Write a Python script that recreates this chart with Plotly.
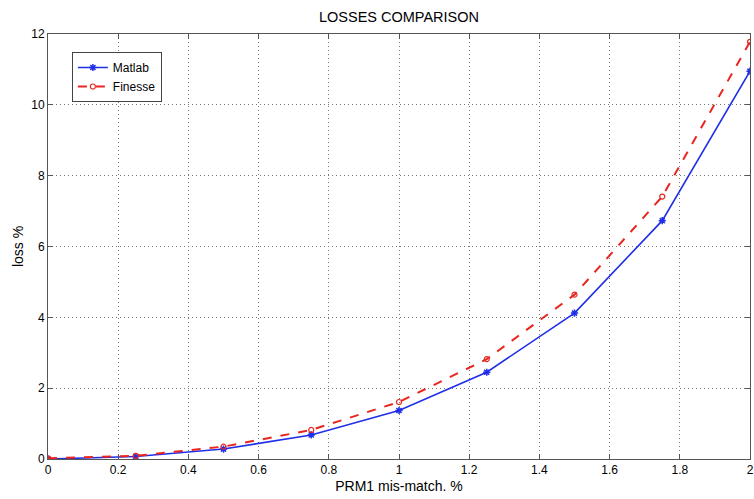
import plotly.graph_objects as go

# Data
mismatch = [0, 0.25, 0.5, 0.75, 1.0, 1.25, 1.5, 1.75, 2.0]
matlab_loss = [0.0, 0.07, 0.28, 0.68, 1.37, 2.45, 4.12, 6.73, 10.95]
finesse_loss = [0.02, 0.09, 0.35, 0.82, 1.61, 2.82, 4.64, 7.41, 11.78]

x_ticks = [0, 0.2, 0.4, 0.6, 0.8, 1, 1.2, 1.4, 1.6, 1.8, 2]
x_tick_labels = ["0", "0.2", "0.4", "0.6", "0.8", "1", "1.2", "1.4", "1.6", "1.8", "2"]
y_ticks = [0, 2, 4, 6, 8, 10, 12]
y_tick_labels = ["0", "2", "4", "6", "8", "10", "12"]

FONT = "Liberation Sans, Arial, Helvetica, sans-serif"
AXIS_COLOR = "#555555"

fig = go.Figure()
fig.add_trace(go.Scatter(
    x=mismatch, y=matlab_loss, name="Matlab", mode="lines+markers",
    line=dict(color="#1f2fe8", width=1.6),
    marker=dict(symbol="asterisk-open", size=6, color="#1f2fe8",
                line=dict(color="#1f2fe8", width=1.5)),
))
fig.add_trace(go.Scatter(
    x=mismatch, y=finesse_loss, name="Finesse", mode="lines+markers",
    line=dict(color="#e8261f", width=2, dash="dash"),
    marker=dict(symbol="circle-open", size=5, color="#e8261f",
                line=dict(color="#e8261f", width=1.2)),
))

axis_common = dict(
    showline=True, linecolor=AXIS_COLOR, linewidth=1, mirror="ticks",
    ticks="inside", ticklen=5, tickcolor=AXIS_COLOR, tickwidth=1,
    showgrid=True, gridcolor="#777777", gridwidth=1, griddash="1px,3px",
    zeroline=False, tickfont=dict(family=FONT, size=12, color="black"),
)

fig.update_layout(
    width=754, height=499,
    margin=dict(l=48, r=0, t=34, b=40),
    paper_bgcolor="white", plot_bgcolor="white",
    font=dict(family=FONT, size=12, color="black"),
    title=dict(text="LOSSES COMPARISON", x=0.5, xref="paper", xanchor="center",
               y=1 - 17 / 499, yref="container", yanchor="middle",
               font=dict(family=FONT, size=14.5, color="black")),
    xaxis=dict(range=[0, 2], tickvals=x_ticks, ticktext=x_tick_labels,
               ticklabeloverflow="allow",
               title=dict(text="PRM1 mis-match. %", standoff=4,
                          font=dict(family=FONT, size=14, color="black")),
               **axis_common),
    yaxis=dict(range=[0, 12], tickvals=y_ticks, ticktext=y_tick_labels,
               title=dict(text="loss %", standoff=4,
                          font=dict(family=FONT, size=14, color="black")),
               **axis_common),
    legend=dict(x=(72 - 48) / 706, y=1 - (52 - 34) / 425, xanchor="left", yanchor="top",
                bgcolor="white", bordercolor="#444444", borderwidth=1,
                font=dict(family=FONT, size=12, color="black"),
                itemwidth=30, tracegroupgap=0),
    showlegend=True,
)

fig.write_html("out.html")
